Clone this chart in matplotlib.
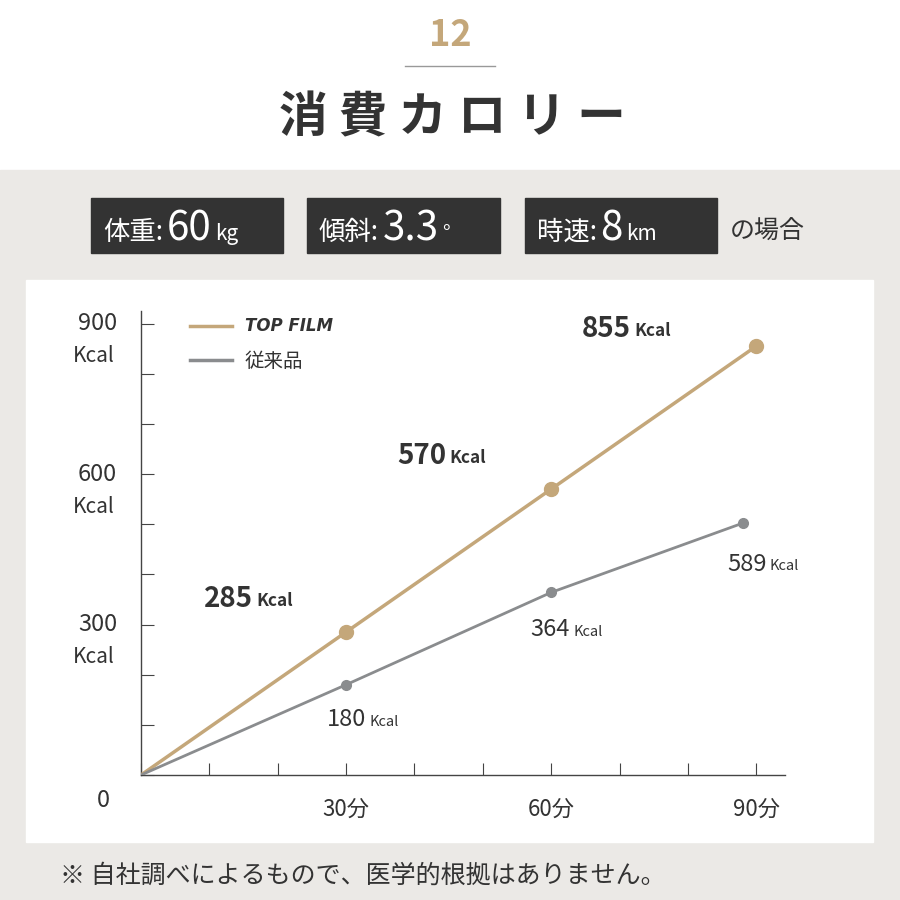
import matplotlib
matplotlib.use("Agg")
import matplotlib.pyplot as plt
from matplotlib.patches import Rectangle
from matplotlib.lines import Line2D

plt.rcParams['font.family'] = ['Noto Sans CJK JP', 'DejaVu Sans']

minutes_top = [0, 30, 60, 90]
kcal_top = [0, 285, 570, 855]
minutes_old = [0, 30, 60, 88]
kcal_old = [0, 180, 364, 502]
labels_top = ["285", "570", "855"]
labels_old = ["180", "364", "589"]
x_ticks = [30, 60, 90]
y_ticks = [0, 300, 600, 900]

GOLD = "#c4a77a"
GRAY = "#8a8c8e"
DARK = "#333333"
TXT = "#333333"

fig = plt.figure(figsize=(9, 9), dpi=100)
fig.patch.set_facecolor("white")
W = 900.0
def fx(x): return x / W
def fy(y): return 1 - y / W

fig.patches.append(Rectangle((0, 0), 1, fy(170), transform=fig.transFigure, color="#ebe9e6", zorder=0))
fig.patches.append(Rectangle((fx(26), fy(842)), fx(873) - fx(26), fy(280) - fy(842), transform=fig.transFigure, color="white", zorder=0.5))

fig.text(fx(450), fy(36), "12", color=GOLD, fontsize=26, fontweight="bold", ha="center", va="center")
fig.add_artist(Line2D([fx(405), fx(495)], [fy(66), fy(66)], color="#999999", lw=1, transform=fig.transFigure))
fig.text(fx(452), fy(118), "消 費 カ ロ リ ー", color=TXT, fontsize=35, fontweight="bold", ha="center", va="center")

boxes = [(91, 283, "体重:", "60", "kg"), (307, 500, "傾斜:", "3.3", "°"), (525, 717, "時速:", "8", "km")]
for x0, x1, a, b, c in boxes:
    fig.patches.append(Rectangle((fx(x0), fy(253)), fx(x1) - fx(x0), fy(198) - fy(253), transform=fig.transFigure, color=DARK, zorder=1))
    t = fig.text(fx(x0 + 12), fy(232), a, color="white", fontsize=19, ha="left", va="center", zorder=2)
    fig.canvas.draw()
    bb = t.get_window_extent()
    t2 = fig.text(bb.x1 / W + 0.004, fy(229), b, color="white", fontsize=29, ha="left", va="center", zorder=2)
    bb2 = t2.get_window_extent()
    fig.text(bb2.x1 / W + 0.004, fy(234), c, color="white", fontsize=15, ha="left", va="center", zorder=2)
fig.text(fx(730), fy(232), "の場合", color=TXT, fontsize=18, ha="left", va="center")

ax = fig.add_axes([fx(141), fy(775), fx(785) - fx(141), fy(311) - fy(775)])
ax.set_zorder(3)
ax.set_facecolor("none")
ax.set_xlim(0, 94.2)
ax.set_ylim(0, 925)
for s in ["top", "right"]:
    ax.spines[s].set_visible(False)
for s in ["left", "bottom"]:
    ax.spines[s].set_color("#444444")
    ax.spines[s].set_linewidth(1)
ax.set_xticks(range(0, 91, 10))
ax.set_xticklabels([])
ax.set_yticks(range(0, 901, 100))
ax.set_yticklabels([])
ax.tick_params(axis="x", direction="in", length=9, color="#444444")
ax.tick_params(axis="y", direction="in", length=9, color="#444444")

ax.plot(minutes_top, kcal_top, color=GOLD, lw=2.5, zorder=3)
ax.plot(minutes_top[1:], kcal_top[1:], "o", color=GOLD, ms=10, zorder=4)
ax.plot(minutes_old, kcal_old, color=GRAY, lw=2, zorder=3)
ax.plot(minutes_old[1:], kcal_old[1:], "o", color=GRAY, ms=7, zorder=4)

for v in y_ticks:
    if v == 0:
        ax.text(-4.5, -50, "0", fontsize=17, color=TXT, ha="right", va="center", clip_on=False)
    else:
        ax.text(-3.5, v, str(v), fontsize=17, color=TXT, ha="right", va="center", clip_on=False)
        ax.text(-3.8, v - 65, "Kcal", fontsize=15, color=TXT, ha="right", va="center", clip_on=False)
for v in x_ticks:
    ax.text(v, -68, f"{v}分", fontsize=16, color=TXT, ha="center", va="center", clip_on=False)

def lab(x, y, num, big, bold):
    t = ax.text(x, y, num, fontsize=big, color=TXT, ha="left", va="center", fontweight="bold" if bold else "normal")
    fig.canvas.draw()
    bb = t.get_window_extent()
    xd = ax.transData.inverted().transform((bb.x1 + 3, 0))[0]
    ax.text(xd, y - 4, "Kcal", fontsize=big * 0.62, color=TXT, ha="left", va="center", fontweight="bold" if bold else "normal")

lab(9.2, 350, labels_top[0], 20, True)
lab(37.5, 635, labels_top[1], 20, True)
lab(64.5, 890, labels_top[2], 20, True)
lab(27.2, 110, labels_old[0], 17, False)
lab(57.0, 290, labels_old[1], 17, False)
lab(85.7, 420, labels_old[2], 17, False)

fig.add_artist(Line2D([fx(190), fx(232)], [fy(326), fy(326)], color=GOLD, lw=2.5, transform=fig.transFigure))
fig.text(fx(245), fy(326), "TOP FILM", fontsize=12, fontweight="bold", style="italic", color=TXT, ha="left", va="center", family="DejaVu Sans")
fig.add_artist(Line2D([fx(190), fx(232)], [fy(360), fy(360)], color=GRAY, lw=2.5, transform=fig.transFigure))
fig.text(fx(245), fy(361), "従来品", fontsize=14, color=TXT, ha="left", va="center")

fig.text(fx(60), fy(876), "※ 自社調べによるもので、医学的根拠はありません。", fontsize=18, color=TXT, ha="left", va="center")

fig.savefig("out.png", dpi=100, facecolor=fig.get_facecolor())
